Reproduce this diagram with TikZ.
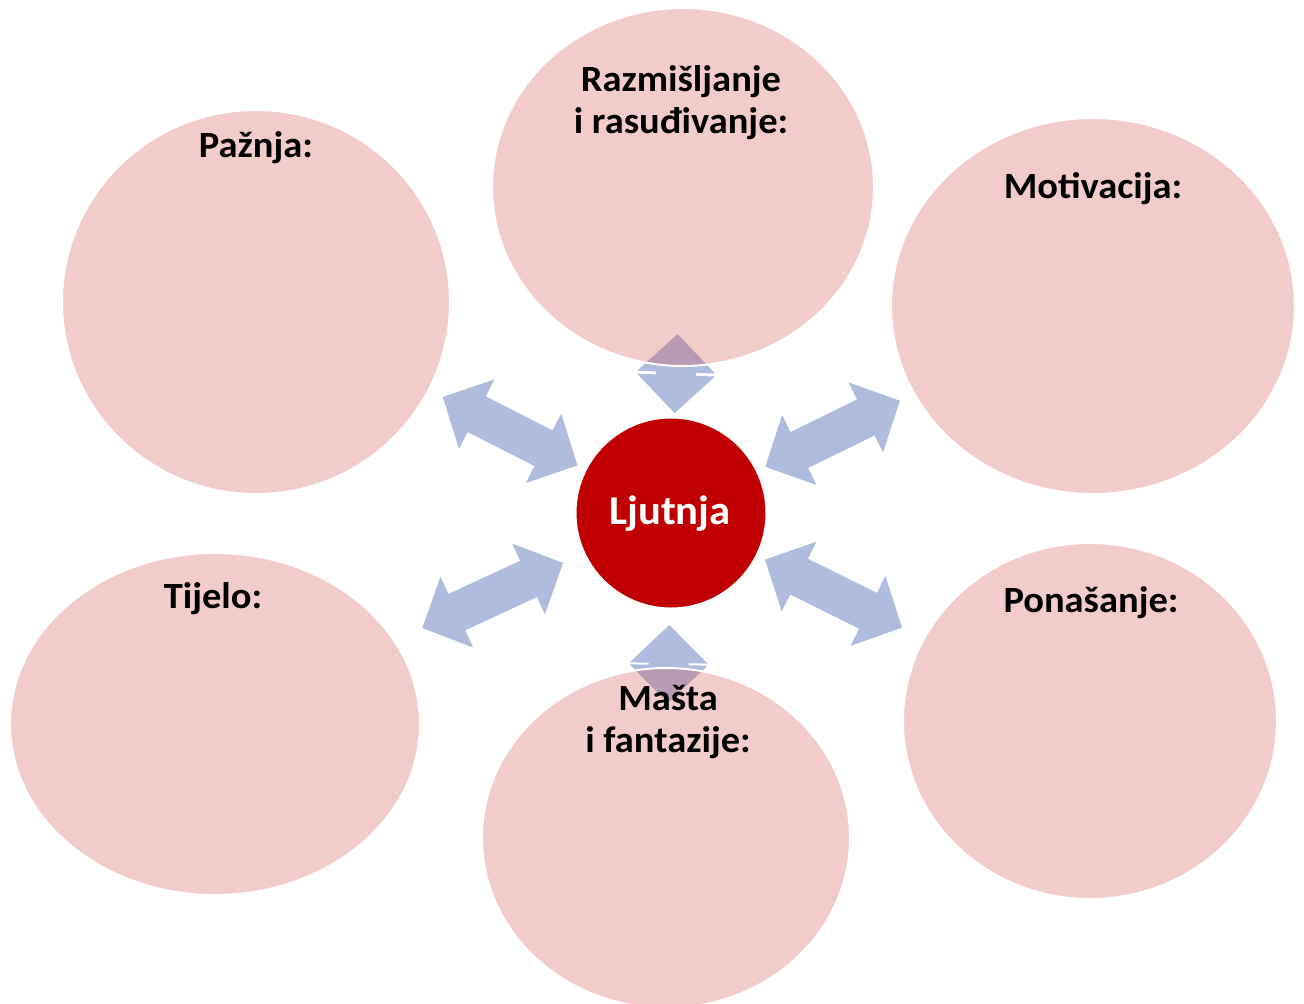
\documentclass[tikz,border=0pt]{standalone}
\usepackage{fontspec}
\setmainfont{Carlito}[FakeStretch=1.04]
\usetikzlibrary{shapes.geometric,calc,positioning,backgrounds}
\definecolor{bubblecolor}{RGB}{209,67,70}
\definecolor{arrowcolor}{RGB}{175,188,221}
\definecolor{angercolor}{RGB}{192,0,0}

% double block arrow on the line between two nodes (#3, #4: distances from #1)
\newcommand\dblarrow[4]{%
  \path ($(#1)!#3!(#2)$) coordinate (tipA) ($(#1)!#4!(#2)$) coordinate (tipB)
        ($(tipA)!38pt!(tipB)$) coordinate (headA) ($(tipB)!38pt!(tipA)$) coordinate (headB);
  \fill[arrowfill] (tipA) -- ($(headA)!39pt!90:(tipB)$) -- ($(headA)!20pt!90:(tipB)$)
    -- ($(headB)!20pt!-90:(tipA)$) -- ($(headB)!39pt!-90:(tipA)$) -- (tipB)
    -- ($(headB)!39pt!90:(tipA)$) -- ($(headB)!20pt!90:(tipA)$)
    -- ($(headA)!20pt!-90:(tipB)$) -- ($(headA)!39pt!-90:(tipB)$) -- cycle;
}

\begin{document}
\begin{tikzpicture}[x=1pt, y=-1pt,
    bubble/.style={ellipse, draw=white, line width=2pt, fill=bubblecolor, fill opacity=0.28, inner sep=0pt, outer sep=0pt},
    anger/.style={circle, draw=white, line width=1pt, fill=angercolor, minimum size=190pt, inner sep=0pt},
    bubbletext/.style={anchor=base, align=center, inner sep=0pt, font=\fontsize{37}{42}\selectfont\bfseries},
    arrowfill/.style={fill=arrowcolor}
]
\useasboundingbox (0,0) rectangle (1304,1004);

% Outer bubbles
\node[bubble, minimum width=388pt, minimum height=384pt] (pazn) at (256,302) {};
\node[bubble, minimum width=382pt, minimum height=358pt] (razm) at (683,187) {};
\node[bubble, minimum width=404pt, minimum height=376pt] (motiv) at (1093,306) {};
\node[bubble, minimum width=410pt, minimum height=342pt] (tijelo) at (215,724) {};
\node[bubble, minimum width=368pt, minimum height=340pt] (masta) at (666,838) {};
\node[bubble, minimum width=374pt, minimum height=356pt] (ponas) at (1090,721) {};

% Center
\node[anger] (ljut) at (671,513) {};

% Arrows behind the bubbles
\begin{pgfonlayer}{background}
\dblarrow{ljut}{pazn}{105pt}{256pt}
\dblarrow{ljut}{motiv}{105pt}{255pt}
\dblarrow{ljut}{ponas}{105pt}{258pt}
\dblarrow{ljut}{tijelo}{119pt}{274pt}
\dblarrow{ljut}{razm}{100pt}{179pt}
\dblarrow{ljut}{masta}{112pt}{190pt}
\end{pgfonlayer}

% Texts (base = baseline of the last line)
\node[bubbletext] (tpazn) at (256,157) {Pažnja:};
\node[bubbletext] (trazm) at (681,133) {Razmišljanje\\i rasuđivanje:};
\node[bubbletext] (tmotiv) at (1093,198) {Motivacija:};
\node[bubbletext] (ttijelo) at (213,608) {Tijelo:};
\node[bubbletext] (tmasta) at (668,752) {Mašta\\i fantazije:};
\node[bubbletext] (tponas) at (1091,612) {Ponašanje:};
\node[bubbletext, text=white, font=\fontsize{41}{46}\selectfont\bfseries] (tljut) at (670,524) {Ljutnja};

\end{tikzpicture}
\end{document}
